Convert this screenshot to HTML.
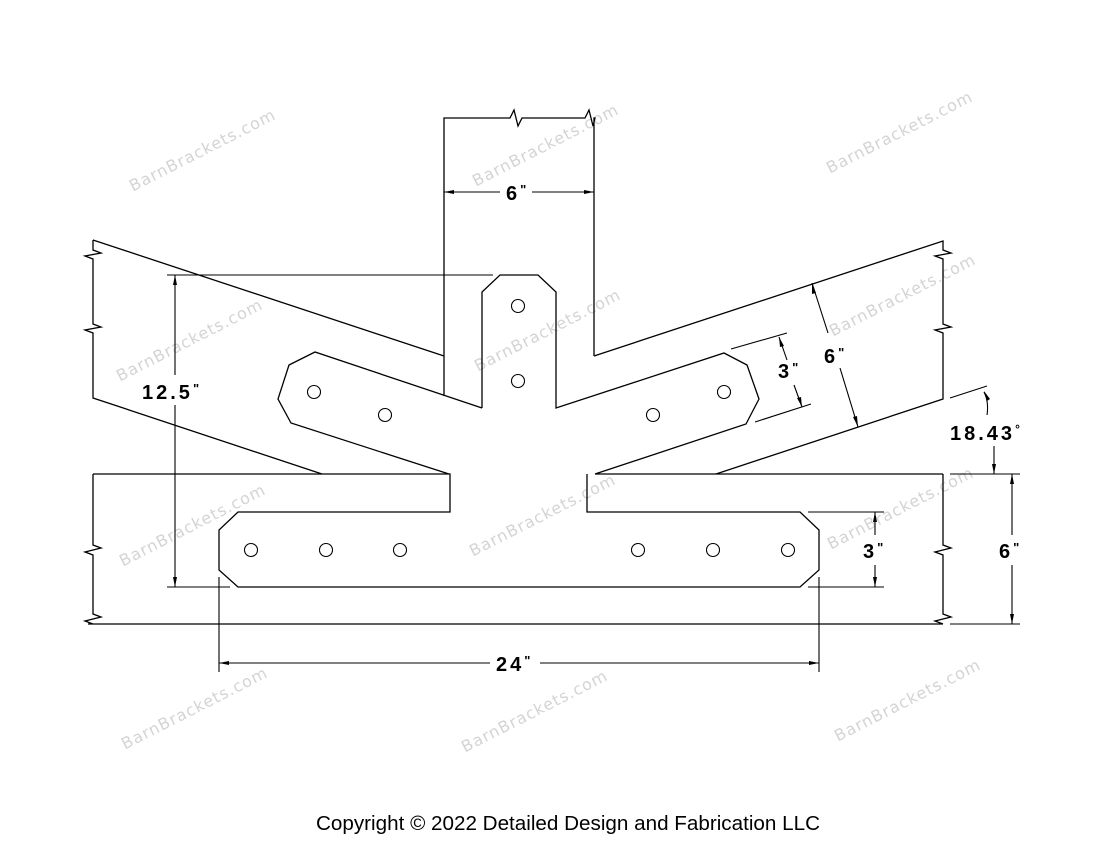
<!DOCTYPE html>
<html><head><meta charset="utf-8"><style>
html,body{margin:0;padding:0;background:#fff;}
svg{display:block;}
.l{stroke:#000;stroke-width:1.3;fill:none;}
.d{stroke:#000;stroke-width:1.1;fill:none;}
.t{font-family:"Liberation Sans",sans-serif;font-weight:bold;font-size:20px;fill:#000;letter-spacing:3px;}
.w{font-family:"DejaVu Sans","Liberation Sans",sans-serif;font-size:16px;fill:#d4d4d4;letter-spacing:1px;}
</style></head><body>
<svg width="1100" height="850" viewBox="0 0 1100 850">
<g class="w" text-anchor="middle">
<text transform="translate(205,155) rotate(-27)">BarnBrackets.com</text>
<text transform="translate(548,150) rotate(-27)">BarnBrackets.com</text>
<text transform="translate(902,137) rotate(-27)">BarnBrackets.com</text>
<text transform="translate(192,345) rotate(-27)">BarnBrackets.com</text>
<text transform="translate(550,335) rotate(-27)">BarnBrackets.com</text>
<text transform="translate(905,300) rotate(-27)">BarnBrackets.com</text>
<text transform="translate(195,530) rotate(-27)">BarnBrackets.com</text>
<text transform="translate(545,520) rotate(-27)">BarnBrackets.com</text>
<text transform="translate(903,513) rotate(-27)">BarnBrackets.com</text>
<text transform="translate(197,713) rotate(-27)">BarnBrackets.com</text>
<text transform="translate(537,716) rotate(-27)">BarnBrackets.com</text>
<text transform="translate(910,705) rotate(-27)">BarnBrackets.com</text>
</g>

<path class="l" d="M444,396 L444,118 L510,118 L514,110 L518,126 L522,118 L585,118 L589,110 L593,126 L595,118 L594,118 L594,356"/>
<path class="l" d="M93,240 L444,356 M93,240 L93,250 L101,253 L85,256 L93,259 L93,324 L101,327 L85,330 L93,333 L93,398 L322,474"/>
<path class="l" d="M594,356 L943,241 L943,250 L951,253 L935,256 L943,259 L943,324 L951,327 L935,330 L943,333 L943,399 L716,474"/>
<path class="l" d="M93,474 L93,545 L101,548 L85,552 L93,555 L93,614 L101,617 L85,621 L93,624 L943,624 M943,474 L943,545 L951,548 L935,552 L943,555 L943,614 L951,617 L935,621 L943,624 M88,624 L93,624"/>
<path class="l" d="M482,408 L482,292 L500,275 L538,275 L556,292 L556,408 L724,353 L747,365 L759,399 L746,424 L595,474 L943,474 M587,474 L587,512 L800,512 L819,530 L819,570 L800,587 L238,587 L219,570 L219,530 L238,512 L450,512 L450,474 L93,474 M449,474 L291,423 L278,399 L289,365 L315,352 L482,408"/>
<g class="d" stroke-width="1">
<circle cx="314" cy="392" r="6.5"/><circle cx="385" cy="415" r="6.5"/>
<circle cx="518" cy="306" r="6.5"/><circle cx="518" cy="381" r="6.5"/>
<circle cx="653" cy="415" r="6.5"/><circle cx="724" cy="392" r="6.5"/>
<circle cx="251" cy="550" r="6.5"/><circle cx="326" cy="550" r="6.5"/><circle cx="400" cy="550" r="6.5"/>
<circle cx="638" cy="550" r="6.5"/><circle cx="713" cy="550" r="6.5"/><circle cx="788" cy="550" r="6.5"/>
</g>

<g class="d">
<path d="M444,192 L500,192 M532,192 L594,192"/>
<path d="M167,275 L493,275 M167,587 L230,587 M175,275 L175,375 M175,405 L175,587"/>
<path d="M219,577 L219,672 M819,577 L819,672 M219,663 L490,663 M540,663 L819,663"/>
<path d="M731,349 L787,333 M755,422 L811,404 M779,337 L787,360 M794,385 L802,407"/>
<path d="M812,283 L828,333 M840,368 L858,427"/>
<path d="M950,398 L987,386 M984,392 Q989,402 987,415 M994,446 L994,474"/>
<path d="M950,474 L1020,474 M950,624 L1020,624 M1012,474 L1012,535 M1012,565 L1012,624"/>
<path d="M808,512 L884,512 M808,587 L884,587 M875,512 L875,535 M875,565 L875,587"/>
</g>
<g fill="#000">
<path d="M444,192 l10,-2 l0,4z M594,192 l-10,-2 l0,4z"/>
<path d="M175,275 l-2,10 l4,0z M175,587 l-2,-10 l4,0z"/>
<path d="M219,663 l10,-2 l0,4z M819,663 l-10,-2 l0,4z"/>
<path d="M779,337 l1,10 l4,-1z M802,407 l-5,-9 l4,-1z"/>
<path d="M812,283 l0,11 l4,-1z M858,427 l-5,-10 l4,-1z"/>
<path d="M984,391 l3,10 l3,-2z M994,474 l-2,-10 l4,0z"/>
<path d="M1012,474 l-2,10 l4,0z M1012,624 l-2,-10 l4,0z"/>
<path d="M875,512 l-2,10 l4,0z M875,587 l-2,-10 l4,0z"/>
</g>
<g class="t">
<text x="506" y="200">6<tspan font-size="13" dy="-6">"</tspan></text>
<text x="142" y="399">12.5<tspan font-size="13" dy="-6">"</tspan></text>
<text x="496" y="671">24<tspan font-size="13" dy="-6">"</tspan></text>
<text x="778" y="378">3<tspan font-size="13" dy="-6">"</tspan></text>
<text x="824" y="363">6<tspan font-size="13" dy="-6">"</tspan></text>
<text x="950" y="440">18.43<tspan font-size="12" dy="-7">°</tspan></text>
<text x="999" y="558">6<tspan font-size="13" dy="-6">"</tspan></text>
<text x="863" y="558">3<tspan font-size="13" dy="-6">"</tspan></text>
</g>
<text x="316" y="830" textLength="504" lengthAdjust="spacingAndGlyphs" style="font-family:'Liberation Sans',sans-serif;font-size:20px;fill:#000;">Copyright © 2022 Detailed Design and Fabrication LLC</text>
</svg>
</body></html>
